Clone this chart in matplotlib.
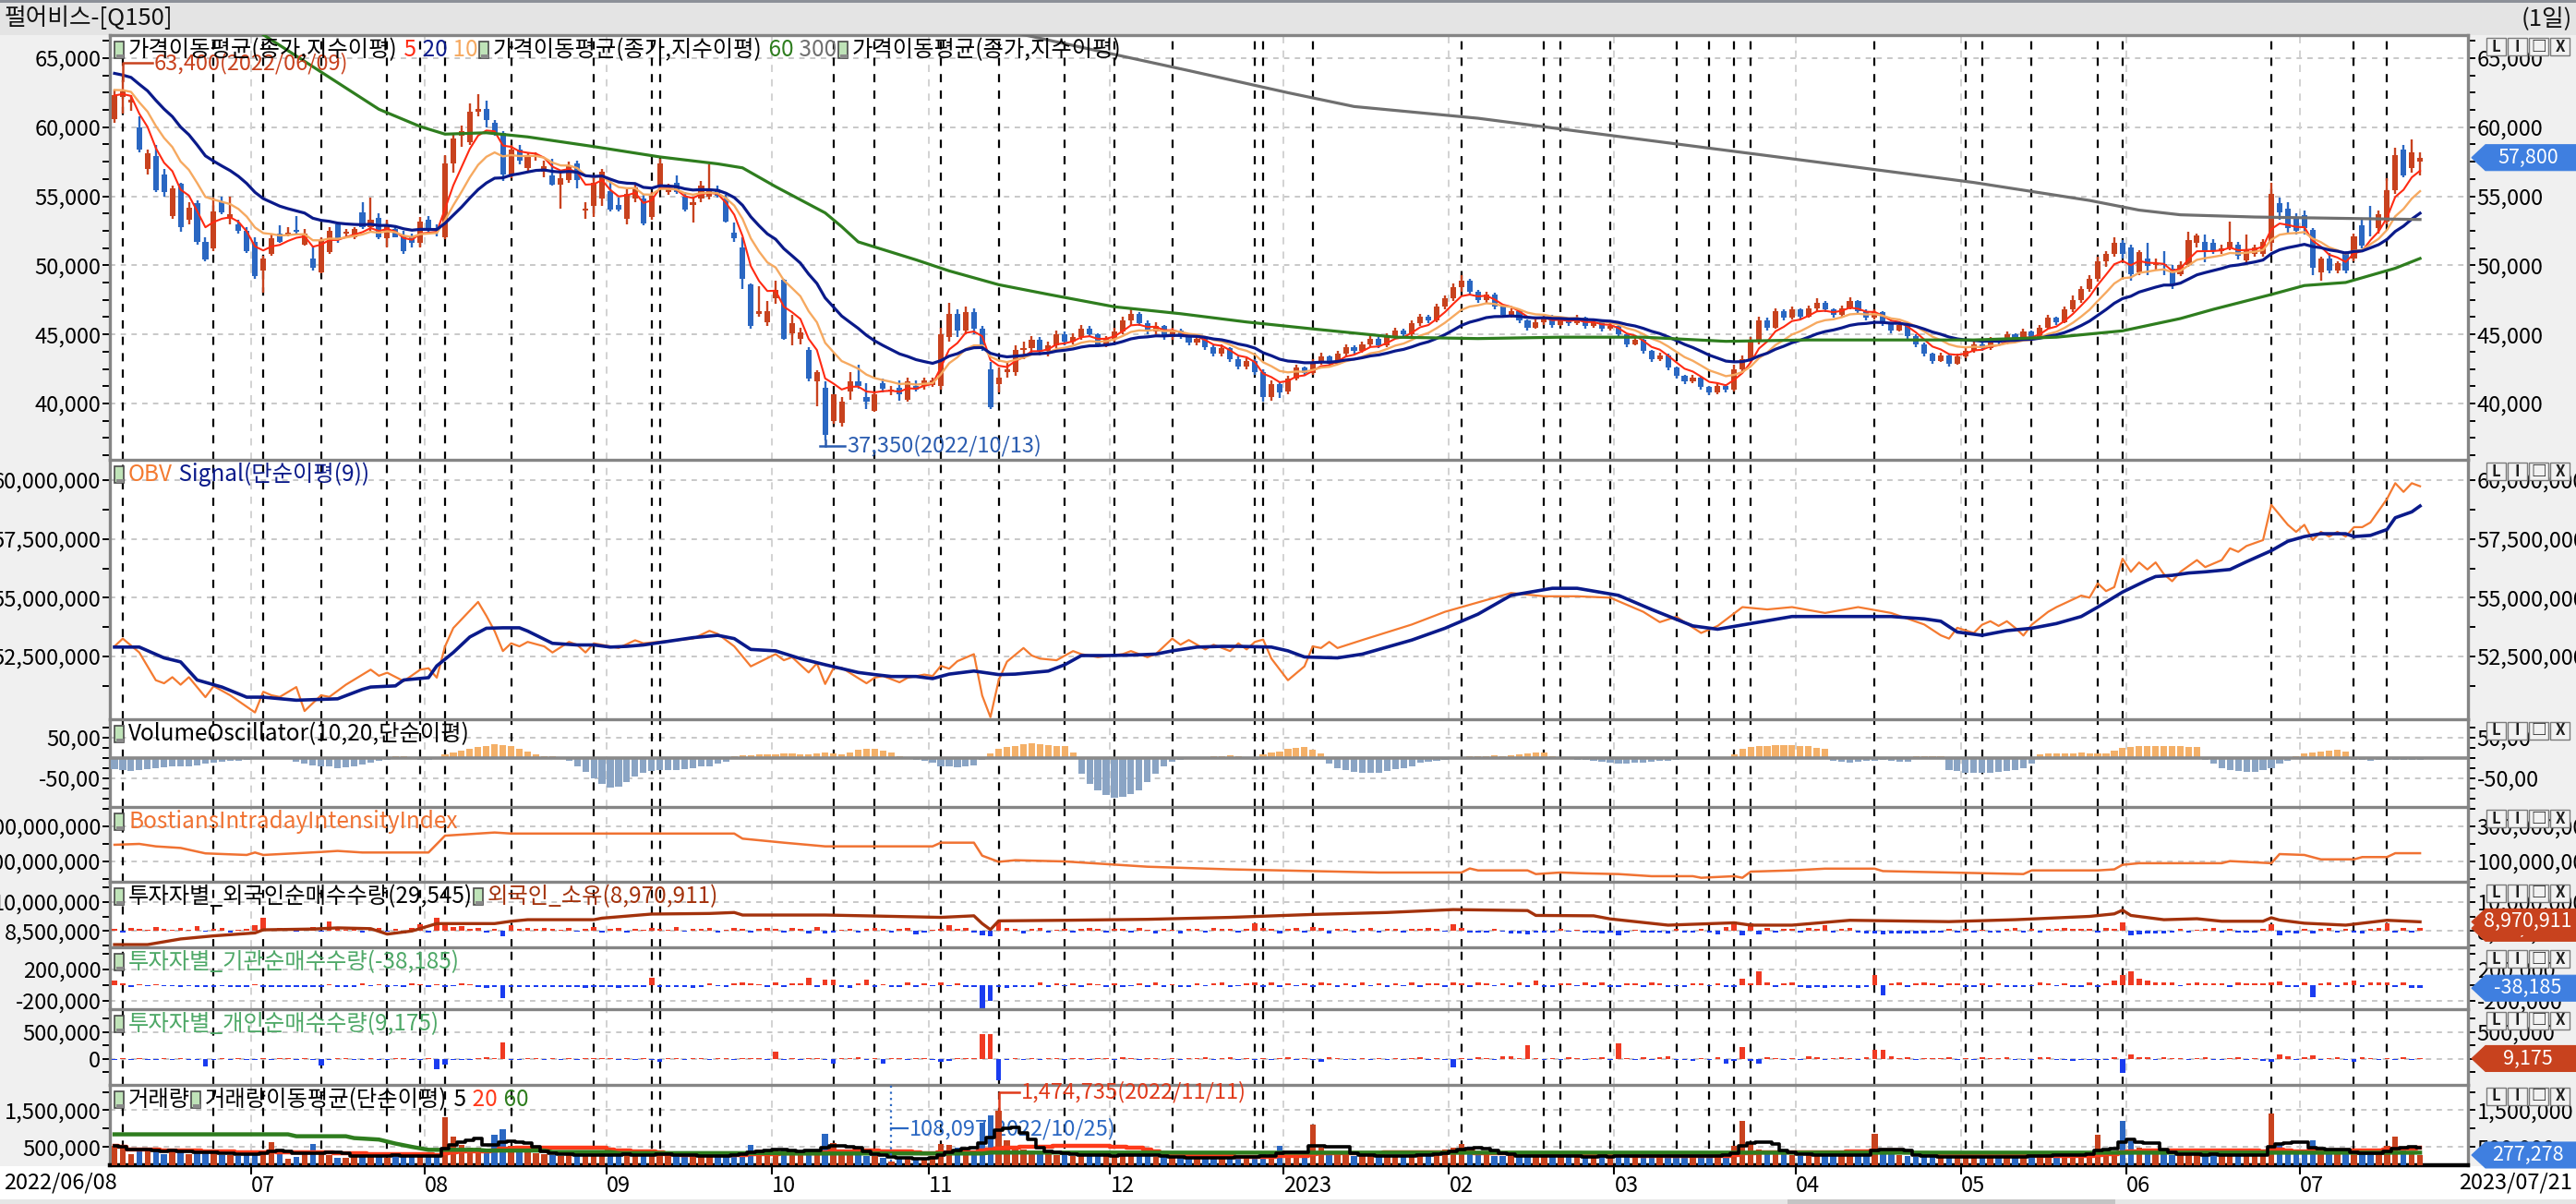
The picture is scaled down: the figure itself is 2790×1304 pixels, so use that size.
import numpy as np
import pandas as pd
import matplotlib
matplotlib.use("Agg")
import matplotlib.pyplot as plt
from matplotlib.patches import Rectangle, Polygon
from matplotlib.ticker import FixedLocator, FuncFormatter, FixedFormatter

plt.rcParams['font.family'] = ['Noto Sans CJK KR', 'DejaVu Sans']
plt.rcParams['axes.unicode_minus'] = False

# ---------------- data ----------------
start_date = '2022-06-08'
end_date = '2023-07-21'
holidays = ['2022-08-15', '2022-09-09', '2022-09-12', '2022-10-03', '2022-10-10',
            '2022-12-30', '2023-01-23', '2023-01-24', '2023-03-01', '2023-05-01',
            '2023-05-05', '2023-05-29', '2023-06-06']

opens = [
    60600, 62200, 61800, 60000, 57000, 57900, 56600, 53600, 55900, 53300,
    54500, 51700, 51200, 54600, 53400, 52950, 52500, 51700, 49600, 50850,
    52300, 52250, 52550, 51500, 50500, 49500, 50950, 52950, 52300, 52050,
    53850, 52750, 53450, 51950, 52600, 52150, 52050, 51600, 53300, 52700,
    52050, 57400, 59400, 58950, 61100, 61300, 60350, 59600, 56600, 58400,
    57050, 57850, 56750, 56500, 55850, 56200, 57400, 53950, 54300, 54850,
    55400, 54400, 53400, 54850, 54850, 53500, 55700, 55300, 55950, 54950,
    54400, 54850, 54950, 55500, 54850, 52350, 51300, 48600, 46500, 45850,
    47600, 48950, 45050, 44700, 43900, 41600, 41150, 38700, 38600, 40900,
    41600, 40450, 39450, 41450, 40900, 41150, 40250, 41250, 41250, 41350,
    41250, 44800, 46500, 45300, 46600, 45400, 42450, 41400, 42250, 42300,
    43900, 44000, 44600, 43800, 44200, 45000, 44500, 44800, 45400, 45000,
    44300, 44700, 45200, 46000, 46500, 45800, 45200, 45600, 44800, 45300,
    44900, 44400, 44700, 44100, 43600, 44000, 43200, 42700, 43100, 42300,
    40500, 41400, 40900, 41800, 42600, 42200, 43000, 43400, 42900, 43600,
    44100, 43800, 44300, 44700, 44200, 44900, 45300, 45000, 45800, 46300,
    46000, 47000, 47600, 48400, 48900, 48100, 47500, 47900, 47000, 46400,
    46700, 46000, 45500, 45900, 46300, 45700, 46100, 45800, 46200, 45600,
    45900, 45400, 45600, 45000, 44300, 44600, 43800, 43200, 43500, 42600,
    42000, 41600, 41900, 41200, 40800, 41300, 41000, 42500, 43200, 44500,
    46000, 45500, 46700, 46200, 46800, 46300, 46900, 47300, 46800, 46400,
    46900, 47400, 46700, 46200, 46600, 45800, 45300, 45700, 44900, 44300,
    43600, 43100, 43500, 42900, 43400, 43800, 44300, 44000, 44600, 44400,
    45000, 44700, 45200, 44800, 45500, 46200, 45900, 46800, 47500, 48300,
    49000, 50300, 50800, 51600, 51280, 49490, 50500, 50000, 50100, 49780,
    49380, 50050, 51610, 51680, 51610, 51050, 51280, 51500, 50390, 50830,
    50830, 51610, 54500, 54100, 53440, 53660, 52550, 49500, 50500, 49600,
    50940, 50500, 52880, 53450, 52720, 53170, 55440, 58400, 57070, 57500]
highs = [
    62700, 63400, 62300, 60800, 58400, 58700, 57000, 55800, 56000, 54600,
    54700, 52000, 54900, 55000, 55000, 53300, 52800, 52000, 50700, 52200,
    52900, 52800, 53600, 52600, 51400, 52000, 52800, 53100, 52600, 52800,
    54600, 54900, 53800, 53300, 52900, 52500, 52300, 53500, 53600, 53000,
    58000, 59600, 60100, 61700, 62400, 61950, 60500, 59700, 58700, 58700,
    58200, 58200, 57600, 57700, 56700, 57500, 57600, 54600, 56500, 57000,
    56100, 54900, 55500, 56000, 55200, 55300, 57700, 55900, 56500, 55300,
    55000, 56100, 57300, 55800, 55100, 53100, 52000, 48700, 48500, 47400,
    48900, 49000, 46400, 45500, 44100, 42400, 41600, 40700, 40500, 42300,
    42800, 41500, 40800, 41800, 41300, 41700, 41900, 41700, 41900, 41900,
    45500, 47300, 46800, 47000, 46900, 45600, 43000, 42600, 43000, 44200,
    44500, 44900, 44800, 44500, 45300, 45200, 45100, 45700, 45600, 45100,
    44900, 45500, 46300, 46900, 46600, 46000, 45900, 45700, 45500, 45400,
    45100, 44900, 44800, 44200, 44300, 44100, 43400, 43300, 43200, 42500,
    41700, 41600, 42000, 42800, 42700, 43200, 43700, 43500, 43800, 44300,
    44200, 44500, 44900, 44800, 45100, 45500, 45400, 46000, 46500, 46400,
    47200, 47800, 48700, 49300, 49000, 48200, 48100, 48000, 47100, 46900,
    46800, 46100, 46100, 46500, 46400, 46300, 46200, 46400, 46300, 46100,
    46000, 45800, 45700, 45100, 44800, 44700, 43900, 43700, 43600, 42700,
    42100, 42100, 42000, 41300, 41500, 41400, 42800, 43500, 44800, 46300,
    46200, 46900, 46800, 47000, 46900, 47100, 47600, 47400, 46900, 47100,
    47700, 47500, 46800, 46800, 46700, 45900, 45900, 45800, 45000, 44400,
    43700, 43700, 43600, 43600, 44000, 44500, 44400, 44800, 44700, 45200,
    45100, 45400, 45300, 45700, 46400, 46300, 47000, 47800, 48500, 49300,
    50600, 51000, 52000, 51800, 51500, 51100, 51600, 50500, 51000, 50000,
    50300, 52400, 52300, 52200, 51900, 51500, 53200, 51700, 52200, 51500,
    51900, 56000, 54900, 54600, 53800, 54000, 52700, 50600, 50900, 50300,
    51000, 52300, 53300, 54300, 54000, 56300, 58500, 58700, 59150, 58200]
lows = [
    60300, 61000, 61200, 58200, 56600, 55300, 55000, 53400, 52400, 53000,
    51500, 50300, 51000, 53700, 53000, 52300, 50900, 49000, 48000, 50700,
    51600, 52100, 52300, 51400, 49600, 49400, 50800, 51600, 52000, 51900,
    52600, 52500, 51900, 51300, 52000, 50800, 51300, 51300, 52300, 52100,
    51900, 56700, 58600, 58700, 60800, 60000, 59400, 56100, 56300, 57300,
    56800, 57600, 56400, 55800, 54100, 56000, 55600, 53400, 53500, 54300,
    53900, 53900, 53000, 54600, 52900, 53300, 55500, 55100, 55200, 53900,
    53100, 54600, 54800, 54900, 53100, 51700, 48300, 45400, 46300, 45600,
    47200, 44600, 44200, 44300, 41600, 39800, 37350, 38500, 38300, 40300,
    41100, 39600, 39400, 40800, 40600, 40200, 40100, 40900, 41000, 41200,
    41000, 44500, 44800, 45000, 45000, 43800, 39600, 40800, 41900, 42000,
    43200, 43700, 43500, 43400, 44000, 44200, 44300, 44600, 44800, 44100,
    44100, 44500, 45000, 45700, 45600, 45000, 45000, 44600, 44600, 44700,
    44200, 44200, 43900, 43400, 43400, 43000, 42500, 42500, 42100, 40100,
    40200, 40400, 40700, 41700, 42000, 42100, 42800, 42700, 42800, 43400,
    43600, 43700, 44100, 44000, 44100, 44700, 44800, 44900, 45600, 45800,
    45900, 46800, 47400, 48100, 47900, 47300, 47300, 46800, 46200, 46200,
    45800, 45300, 45400, 45700, 45500, 45600, 45600, 45700, 45400, 45500,
    45200, 45300, 44800, 44100, 44200, 43600, 43000, 43100, 42400, 41800,
    41400, 41500, 41000, 40600, 40700, 40800, 40900, 42300, 43000, 44300,
    45300, 45400, 46000, 46100, 46100, 46200, 46700, 46600, 46200, 46300,
    46800, 46500, 46000, 46100, 45600, 45100, 45200, 44700, 44100, 43400,
    42900, 43000, 42700, 42800, 43300, 43700, 43800, 43900, 44200, 44300,
    44500, 44600, 44600, 44700, 45400, 45700, 45800, 46600, 47300, 48100,
    48800, 49900, 50600, 50500, 48900, 49300, 49300, 49600, 49300, 48300,
    49200, 49900, 51300, 50200, 50800, 50800, 51100, 50400, 50200, 50600,
    50600, 51000, 53300, 52300, 52200, 52200, 49300, 48900, 49400, 49400,
    49400, 50300, 51200, 52100, 52300, 53000, 55200, 56400, 56700, 56500]
closes = [
    62300, 62600, 62000, 58400, 58100, 55450, 55300, 55600, 52800, 54200,
    51700, 50400, 53900, 53850, 53700, 52500, 51050, 49200, 50500, 51950,
    51700, 52350, 52450, 52300, 49850, 51800, 52500, 51850, 52450, 52600,
    52750, 53300, 52050, 52950, 52050, 51050, 51600, 53200, 52500, 52550,
    57400, 59200, 59750, 61100, 61300, 60500, 59600, 56600, 58400, 57600,
    57950, 57950, 57200, 55850, 56300, 57200, 56200, 54100, 55950, 56750,
    54050, 54050, 55200, 55650, 53050, 55050, 57400, 55550, 55300, 54050,
    54600, 55750, 55400, 55050, 53200, 51950, 49050, 45600, 46700, 46700,
    48200, 44700, 45800, 45150, 41800, 42250, 37700, 40700, 40150, 41600,
    41250, 40150, 40700, 41050, 41000, 40700, 41600, 41000, 41700, 41700,
    45000, 46500, 45300, 46600, 45400, 44200, 39700, 41900, 42450, 43900,
    44000, 44600, 43800, 44200, 45000, 44500, 44800, 45400, 45000, 44300,
    44700, 45200, 46000, 46500, 45800, 45200, 45600, 44800, 45300, 44900,
    44400, 44700, 44100, 43600, 44000, 43200, 42700, 43100, 42300, 40500,
    41400, 40800, 41800, 42600, 42200, 43000, 43400, 42900, 43600, 44100,
    43800, 44300, 44700, 44200, 44900, 45300, 45000, 45800, 46300, 46000,
    47000, 47600, 48400, 48900, 48100, 47500, 47900, 47000, 46400, 46700,
    46000, 45500, 45900, 46300, 45700, 46100, 45800, 46200, 45600, 45900,
    45400, 45600, 45000, 44300, 44600, 43800, 43200, 43500, 42600, 42000,
    41600, 41900, 41200, 40800, 41300, 41000, 42500, 43200, 44500, 46000,
    45500, 46700, 46200, 46800, 46300, 46900, 47300, 46800, 46400, 46900,
    47400, 46700, 46200, 46600, 45800, 45300, 45700, 44900, 44300, 43600,
    43100, 43500, 42900, 43400, 43800, 44300, 44000, 44600, 44400, 45000,
    44700, 45200, 44800, 45500, 46200, 45900, 46800, 47500, 48300, 49000,
    50300, 50800, 51600, 50800, 49380, 50940, 49940, 50100, 50000, 48600,
    50050, 51830, 52170, 51050, 51050, 51200, 51680, 50700, 51160, 51280,
    51720, 55170, 53840, 52720, 52500, 52720, 49830, 50500, 49600, 50160,
    49600, 52100, 51400, 53390, 53730, 55440, 57960, 56500, 58180, 57800]

# exponential averages at the first day
ema_start = {5: 62300, 10: 62700, 20: 63900}

# volume in thousand shares
volume_k = [
    520, 480, 300, 420, 380, 460, 300, 420, 390, 300,
    340, 360, 330, 280, 280, 260, 330, 400, 320, 630,
    300, 180, 220, 350, 570, 330, 280, 210, 200, 230,
    330, 260, 300, 200, 260, 270, 240, 250, 250, 230,
    1320, 775, 560, 470, 480, 430, 820, 970, 520, 400,
    360, 330, 300, 280, 260, 300, 280, 250, 280, 330,
    300, 260, 280, 250, 300, 260, 380, 260, 240, 250,
    230, 260, 260, 230, 280, 310, 380, 560, 420, 330,
    400, 460, 380, 300, 420, 400, 860, 610, 330, 350,
    300, 260, 240, 200, 108.097, 180, 220, 190, 210, 250,
    570, 560, 480, 420, 380, 1150, 1350, 1474.735, 680, 520,
    420, 380, 330, 300, 280, 300, 260, 300, 240, 280,
    260, 240, 320, 300, 260, 240, 220, 230, 200, 210,
    190, 210, 200, 180, 220, 240, 230, 210, 260, 310,
    300, 520, 380, 300, 320, 1110, 480, 320, 280, 300,
    260, 240, 250, 230, 260, 280, 250, 300, 320, 280,
    330, 420, 480, 570, 500, 380, 300, 260, 240, 280,
    220, 250, 300, 260, 240, 230, 220, 250, 240, 230,
    260, 200, 280, 300, 260, 240, 220, 250, 280, 260,
    240, 220, 230, 250, 260, 380, 520, 1220, 610, 420,
    380, 320, 300, 280, 260, 300, 280, 240, 260, 280,
    320, 300, 270, 860, 380, 300, 270, 250, 230, 220,
    240, 210, 230, 200, 220, 210, 230, 240, 250, 230,
    240, 220, 350, 260, 250, 280, 300, 260, 330, 310,
    820, 430, 350, 1220, 650, 480, 360, 320, 300, 280,
    300, 310, 280, 260, 300, 270, 250, 280, 260, 270,
    300, 1420, 600, 450, 380, 330, 670, 420, 360, 330,
    300, 320, 380, 300, 340, 525, 775, 480, 360, 277.278]

# VolumeOscillator(10,20) readings
vol_osc = [
    -28, -30, -32, -30, -28, -26, -24, -22, -20, -20, -18,
    -15, -12, -10, -8, -8, -6,
    -4, -3, -2, -3, -4,
    -10, -14, -18, -20, -22, -25, -24, -20, -16, -12, -8, -5,
    3, 4, -3, -6, -5, -4,
    8, 14, 18, 22, 26, 30, 33, 32, 28, 22, 15, 8,
    5, 3, -2, -8,
    -20, -35, -50, -65, -74, -72, -60, -45, -38, -33, -30,
    -30, -30, -28, -25, -22, -20, -15, -10,
    5, 6, 7, 8, 8, 9, 10, 10, 9, 9, 10, 12, 10, 8,
    14, 20, 22, 21, 18, 12,
    4, -2, -5, -8, -12,
    -20, -22, -24, -22, -18, -6,
    10, 22, 26, 30, 34, 36, 34, 32, 30, 28, 12,
    -40, -65, -80, -92, -98, -95, -90, -80, -60, -40, -20, -10,
    -6, -4, -2, 2, 4, 5, 6, 5, -4, -6,
    8, 12, 16, 22, 24, 26, 20, 10,
    -15, -25, -30, -35, -38, -38, -36, -32, -28, -25, -20, -13,
    -10, -8, -6, -3, 2,
    4, 5, 5, 6, 5, 6, 8, 10, 12, 13,
    3, -2, -4, -5, -6,
    -8, -10, -12, -14, -15, -13, -12, -10, -8, -7, -6,
    -4, -3, -2, -3, -1, 2, 8,
    23, 26, 28, 30, 32, 32, 31, 30, 28, 25, 22,
    -8, -10, -12, -10, -8, -7, -6, -8, -10, -9,
    3, 5, 5, 4,
    -30, -33, -36, -38, -38, -37, -35, -33, -30, -25, -15,
    8, 10, 11, 11, 11, 12, 11, 10, 10,
    18, 25, 27, 28, 29, 30, 30, 29, 28, 27, 26,
    -5, -15, -25, -30, -33, -35, -34, -30, -25, -15, -8,
    5, 10, 12, 15, 18, 19, 15,
    -6, -6, -7, -6, -6, -5, -6, -6, -6]

# net buying by investor (thousand shares)
foreign_k = [
    20, -15, 30, 25, 15, 40, 25, 10, 35, 15, 50, -10, 20, 30, -15, 10, 25, 60, 140, 20,
    30, 15, -10, 25, 40, -5, 100, 20, 15, 40, -20, 20, 30, -5, 20, -30, 30, 70, -20, 140,
    80, 40, 50, 20, 30, -20, 25, -60, 60, 20, 35, 25, 30, 20, 15, 30, -10, 25, 40, -15,
    20, 30, -20, 20, 15, 35, 25, 10, 40, -10, 20, 25, 30, -20, 15, 30, 20, -15, 25, 30,
    20, -15, 30, 25, -25, 40, -30, -20, 15, 25, -15, 20, 30, 25, -20, 20, 30, -40, -20, 15,
    25, 60, 20, 30, -15, -45, -60, 100, 30, 25, -25, 20, 30, -20, 15, 25, -15, 20, 30, 25,
    -15, 20, 25, -20, 30, 15, -25, 20, 15, -30, 25, 20, -15, 30, 25, 20, -20, 25, 80, 30,
    20, -25, 25, 30, -20, 45, 30, -30, 20, 25, -20, 25, 30, -15, 20, 25, -20, 25, 20, 30,
    25, -10, 75, 30, -20, -15, -20, 20, -10, -25, -30, -40, -15, -20, -15, 20, -10, 15, -20, -15,
    -25, -20, -45, -20, 15, -15, -20, -15, -25, 20, -15, -15, 25, -15, -35, 40, 100, -45, 80, -40,
    30, -15, 20, 25, -20, 30, 20, 60, -15, 25, 30, -20, -25, -30, -35, -30, -25, -30, -30, -25,
    -20, -15, 20, -20, 25, -20, 15, -20, -15, 20, 30, -20, 25, -15, 20, 25, 30, 25, 20, 25,
    -20, 30, 20, 90, -45, -35, -30, -25, -30, -20, 25, -20, 15, 25, 30, -20, 25, -15, -20, -20,
    20, 70, -50, -20, -30, 25, -25, 25, 30, -20, 25, -20, -25, 25, 30, 80, -20, 30, -20, 29.545]
inst_k = [
    60, 20, -20, 10, -15, 15, -10, -15, -20, -15, -20, -20, -25, -15, -20, -20, -25, 15, -20, -20,
    -20, -25, -20, -20, -20, -25, 15, -20, -25, -20, 20, -15, 15, -20, -15, -20, 20, 15, -25, 15,
    -20, -15, 20, 15, -20, -30, -20, -170, -20, -20, -25, -20, -20, -20, -25, -20, -25, -30, -20, -20,
    -25, -30, -20, -20, -20, 94, -20, -25, -20, -20, -30, -20, 20, -15, -20, 20, 30, 20, 15, -20,
    30, -20, 25, 20, 94, -20, 67, 67, -25, -30, 20, 67, -20, 15, -20, -25, 30, -20, 20, -15,
    40, -15, 20, -20, -20, -290, -200, -20, -30, -20, -25, -20, 30, -20, 20, -15, 25, -20, 20, 15,
    -20, 25, -20, -15, 20, -25, 30, -20, 15, -20, -25, 20, -15, 25, 30, -20, -15, 25, 40, -20,
    30, -20, 25, -15, 20, -25, 30, 20, -20, 25, -20, 30, -15, 20, -20, 25, -15, 30, -20, 25,
    20, -20, 40, 25, -20, 30, 25, -15, 20, -20, 35, -20, 60, -25, -20, 25, 20, -15, 30, -20,
    40, -20, -25, 20, 25, -20, 30, 20, -20, -15, -20, 25, 20, -15, 20, -20, -25, 80, 20, 177,
    35, -20, 25, 30, -20, -30, -25, -40, -25, -25, -25, -30, -20, 126, -126, 25, 30, -20, 25, 30,
    25, -20, 25, 25, -20, -20, 25, -20, 25, -20, -25, -20, -15, 30, 25, -15, 20, -20, -20, 30,
    -20, 25, 60, 126, 177, 80, 60, 40, 35, 30, -15, 25, 30, 25, 20, 25, -20, 30, 25, 20,
    25, 40, 45, -20, -25, 40, -150, 20, 30, -20, 40, 60, -20, 40, 30, 30, -20, 40, -30, -38.185]
indiv_k = [
    -20, 15, -25, 20, -15, -20, 10, -25, 15, -20, -15, -130, -20, 15, -20, 20, -25, -15, 20, -20,
    25, 20, -20, 15, -20, -120, -20, 15, 20, -15, -20, 20, -15, -20, 15, 20, -20, -25, 15, -184,
    -100, -20, -25, -20, 20, 30, 25, 317, -20, -15, 20, 25, -20, 15, -20, 20, -15, 20, 25, 15,
    20, -15, 20, -25, 15, -20, -60, 15, 20, -20, 25, 20, -15, 20, 25, -20, 15, 20, 25, -15,
    143, -20, 25, -20, 15, 20, -25, -90, 20, 25, 30, -20, 25, -80, 20, 15, -20, 25, 20, -20,
    -60, -30, 20, 25, 25, 460, 460, -390, -20, 20, -25, 20, -15, 20, 25, -20, 15, 20, -15, 20,
    25, -20, 30, 20, -15, 20, 25, -20, 20, -15, 25, 20, 30, -20, 25, 30, -15, 20, -20, 25,
    -20, 25, 30, -25, 20, -20, -60, 30, 25, -20, -15, 20, -20, 15, -20, 25, -20, 20, 30, -15,
    20, -20, -160, 20, -20, 30, 25, -20, 50, 60, 20, 258, 20, -15, 20, -20, 30, 25, -20, 20,
    30, -15, 287, 20, -20, 40, -20, 30, 50, -20, -15, -30, 25, -20, 30, -80, -40, 218, -40, -80,
    30, 20, -20, 25, -20, 50, 30, -25, 25, 30, 20, -20, 40, 172, 172, 60, 25, 30, -20, 20,
    25, 20, 30, -20, 25, -20, 30, 20, 25, 30, -20, -25, -20, 40, 30, -20, -25, -30, -20, -20,
    -20, -25, 30, -258, 80, 40, 30, -20, 30, 25, 20, -20, 25, 30, -20, -25, 20, 30, -20, 25,
    -40, -60, 80, 50, -20, 30, 70, -20, 25, 30, -20, -60, 40, 25, -25, 25, -20, 30, -20, 9.175]

# foreign holding (million shares), read at selected days
hold_day = [0, 4, 8, 12, 17, 18, 24, 27, 31, 33, 36, 39, 46, 48, 50, 58, 59, 65, 72, 75, 76, 86, 92,
            100, 104, 105, 106, 107, 115, 125, 135, 145, 154, 162, 171, 172, 179, 181, 188, 196,
            198, 203, 210, 222, 230, 239, 242, 243, 244, 248, 252, 255, 260, 261, 262, 265, 270, 275, 279]
hold_m = [7.80, 7.80, 8.09, 8.25, 8.40, 8.56, 8.60, 8.66, 8.62, 8.34, 8.50, 8.88, 8.88, 9.00, 9.08,
          9.08, 9.16, 9.37, 9.40, 9.45, 9.32, 9.32, 9.27, 9.20, 9.28, 8.88, 8.57, 9.02, 9.05, 9.10,
          9.20, 9.35, 9.45, 9.60, 9.55, 9.30, 9.28, 9.12, 8.80, 8.92, 8.80, 8.80, 9.05, 8.98, 9.08,
          9.25, 9.38, 9.57, 9.30, 9.08, 9.13, 9.00, 9.00, 9.18, 9.06, 8.90, 8.80, 9.05, 8.970911]

# OBV (million) readings
obv_day = [0, 1, 3, 5, 6, 7, 8, 9, 11, 12, 14, 17, 18, 19, 20, 22, 23, 25, 26, 28, 31, 32, 33, 35, 37,
           38, 39, 40, 41, 44, 45, 46, 47, 48, 49, 50, 52, 53, 55, 56, 57, 58, 60, 61, 63, 64, 70,
           72, 73, 75, 77, 80, 81, 82, 84, 85, 86, 87, 88, 91, 92, 93, 95, 96, 98, 99, 100, 101,
           102, 104, 105, 106, 107, 108, 110, 111, 112, 114, 116, 117, 119, 122, 123, 125, 126,
           128, 129, 130, 132, 133, 135, 136, 137, 138, 139, 140, 142, 144, 145, 146, 147, 148,
           151, 157, 161, 165, 169, 173, 177, 181, 185, 187, 189, 192, 194, 197, 200, 203, 207,
           211, 215, 219, 221, 222, 223, 225, 226, 227, 228, 229, 230, 231, 232, 234, 235, 238,
           239, 240, 241, 242, 243, 244, 245, 246, 247, 248, 249, 250, 252, 253, 255, 256, 257,
           258, 260, 261, 263, 264, 265, 266, 267, 268, 269, 270, 271, 272, 273, 274, 275, 276,
           277, 278, 279]
obv_m = [52.93, 53.26, 52.67, 51.49, 51.36, 51.62, 51.30, 51.62, 50.77, 51.24, 50.85, 50.12, 51.00,
         50.85, 50.78, 51.20, 50.18, 50.85, 50.78, 51.30, 51.94, 51.68, 51.81, 51.45, 51.94, 52.00,
         51.60, 52.93, 53.71, 54.82, 54.23, 53.58, 52.73, 53.06, 52.93, 53.12, 52.93, 52.67, 53.12,
         52.99, 52.67, 53.06, 52.93, 52.86, 53.19, 53.06, 53.26, 53.59, 53.46, 52.93, 52.08, 52.60,
         52.34, 52.47, 51.82, 52.21, 51.33, 52.00, 52.02, 51.36, 51.60, 51.67, 51.40, 51.60, 51.73,
         51.67, 52.10, 51.98, 52.30, 52.60, 50.84, 49.92, 51.49, 52.28, 52.86, 52.54, 52.41, 52.34,
         52.73, 52.60, 52.47, 52.60, 52.73, 52.47, 52.60, 53.26, 53.00, 53.20, 52.80, 53.00, 52.73,
         53.06, 52.80, 53.12, 53.22, 52.41, 51.49, 52.08, 52.93, 52.86, 53.12, 52.86, 53.20, 53.86,
         54.40, 54.80, 55.20, 55.06, 55.06, 55.00, 54.40, 53.96, 54.19, 53.50, 53.80, 54.60, 54.50,
         54.60, 54.35, 54.60, 54.35, 53.86, 53.40, 53.26, 53.72, 53.50, 53.85, 54.00, 53.80, 54.00,
         53.72, 53.39, 53.85, 54.40, 54.60, 55.09, 55.00, 55.61, 55.28, 55.45, 56.66, 56.10, 56.50,
         56.20, 56.50, 56.00, 55.70, 56.10, 56.60, 56.30, 56.60, 57.10, 56.95, 57.20, 57.45, 58.95,
         58.10, 57.80, 58.10, 57.45, 57.80, 57.60, 57.80, 57.60, 58.00, 58.00, 58.20, 58.70, 59.20,
         59.87, 59.50, 59.87, 59.74]
sig_day = [0, 3, 6, 8, 10, 11, 13, 16, 18, 22, 27, 30, 31, 34, 35, 38, 39, 41, 43, 45, 47, 49, 50,
           53, 56, 58, 60, 62, 64, 70, 73, 75, 77, 80, 83, 86, 90, 92, 94, 97, 99, 101, 104, 107,
           109, 113, 115, 117, 120, 123, 126, 128, 131, 134, 136, 140, 142, 144, 148, 151, 157,
           161, 165, 169, 174, 177, 182, 186, 191, 194, 198, 203, 211, 215, 219, 221, 223, 226,
           229, 232, 235, 238, 240, 243, 246, 247, 249, 251, 253, 256, 258, 261, 263, 265, 267,
           270, 271, 273, 275, 276, 278, 279]
sig_m = [52.90, 52.90, 52.44, 52.27, 51.50, 51.40, 51.20, 50.77, 50.77, 50.64, 50.70, 51.10, 51.20,
         51.25, 51.50, 51.60, 52.10, 52.67, 53.33, 53.70, 53.72, 53.72, 53.58, 53.06, 52.99, 52.99,
         52.90, 52.93, 52.99, 53.30, 53.40, 53.26, 52.80, 52.74, 52.41, 52.15, 51.82, 51.73, 51.65,
         51.65, 51.56, 51.75, 51.88, 51.73, 51.75, 51.88, 52.15, 52.54, 52.54, 52.56, 52.60, 52.74,
         52.90, 52.93, 52.93, 52.90, 52.74, 52.48, 52.44, 52.60, 53.20, 53.70, 54.30, 55.10, 55.40,
         55.40, 55.10, 54.50, 53.80, 53.66, 53.90, 54.20, 54.20, 54.20, 54.10, 54.00, 53.54, 53.40,
         53.60, 53.70, 53.90, 54.20, 54.60, 55.24, 55.75, 55.90, 55.95, 56.05, 56.10, 56.20, 56.53,
         57.00, 57.40, 57.60, 57.72, 57.72, 57.60, 57.65, 57.90, 58.40, 58.65, 58.90]

# BostiansIntradayIntensityIndex (million) readings
bii_day = [0, 3, 5, 8, 11, 16, 17, 18, 25, 27, 30, 38, 40, 46, 48, 57, 65, 75, 76, 81, 86, 93, 99,
           100, 104, 105, 107, 109, 115, 125, 135, 145, 153, 163, 164, 165, 171, 172, 175, 178,
           182, 186, 191, 192, 196, 197, 198, 203, 207, 213, 214, 222, 231, 232, 236, 240, 242,
           243, 245, 255, 256, 261, 262, 265, 267, 271, 272, 275, 276, 279]
bii_m = [195, 200, 186, 177, 146, 137, 151, 137, 154, 160, 151, 151, 247, 265, 259, 259, 259, 259,
         230, 207, 186, 186, 186, 207, 207, 133, 98, 107, 100, 70, 55, 45, 37, 37, 60, 49, 49, 28,
         37, 32, 28, 16, 16, 7, 16, 7, 42, 49, 59, 59, 45, 37, 28, 49, 49, 49, 55, 81, 90, 90, 102,
         90, 142, 137, 112, 112, 125, 125, 147, 147]

# long moving averages of price
ma60_day = [0, 10, 18, 25, 32, 37, 40, 45, 50, 58, 66, 73, 76, 80, 86, 88, 90, 97, 101, 107, 113,
            121, 129, 137, 145, 155, 165, 175, 185, 195, 205, 215, 225, 235, 243, 250, 254, 261,
            265, 270, 276, 279]
ma60_val = [73400, 69700, 66700, 64000, 61300, 60050, 59500, 59600, 59300, 58600, 57850, 57350,
            57060, 55700, 53800, 52800, 51700, 50400, 49600, 48600, 47900, 47000, 46500, 45900,
            45400, 44800, 44700, 44800, 44800, 44500, 44600, 44600, 44600, 44800, 45260, 46150,
            46820, 47890, 48540, 48760, 49790, 50500]
ma300_day = [95, 110, 120, 130, 142, 150, 165, 185, 205, 225, 239, 245, 250, 259, 271, 279]
ma300_val = [68500, 66700, 65400, 64100, 62500, 61500, 60650, 59100, 57560, 56000, 54700, 54000,
             53660, 53500, 53390, 53320]

# volume 60-day average (thousand)
vma60_day = [0, 21, 22, 28, 29, 32, 34, 36, 37, 38, 44, 45, 52, 53, 60, 61, 80, 81, 105, 106, 140, 200, 279]
vma60_k = [842, 842, 790, 790, 740, 700, 590, 500, 460, 420, 420, 400, 400, 360, 360, 330, 330, 320,
           320, 345, 342, 342, 342]

signal_days = [1, 12, 18, 25, 33, 37, 40, 48, 58, 65, 66, 87, 92, 100, 107, 115, 121, 128, 138, 139,
               145, 163, 173, 175, 181, 189, 193, 196, 198, 213, 224, 226, 232, 240, 243, 261, 271, 275]

# ---------------- preparation ----------------
dates = pd.bdate_range(start_date, end_date)
dates = dates[~dates.isin(pd.to_datetime(holidays))]
N = len(dates)
for nm, arr in [('opens', opens), ('highs', highs), ('lows', lows), ('closes', closes),
                ('volume', volume_k), ('vo', vol_osc), ('for', foreign_k), ('inst', inst_k), ('ind', indiv_k)]:
    assert len(arr) == N, (nm, len(arr), N)

x = np.arange(N)
o = np.array(opens, float); h = np.array(highs, float); l = np.array(lows, float); c = np.array(closes, float)
vol = np.array(volume_k) * 1000
up = c >= o
RED = '#c8421e'
BLUE = '#2a67c2'
cols = np.where(up, RED, BLUE)


def ema(values, span, first):
    a = 2.0 / (span + 1)
    out = np.empty(len(values))
    out[0] = first
    for i in range(1, len(values)):
        out[i] = a * values[i] + (1 - a) * out[i - 1]
    return out


ema5 = ema(c, 5, ema_start[5])
ema10 = ema(c, 10, ema_start[10])
ema20 = ema(c, 20, ema_start[20])
vs = pd.Series(vol)
vma5 = vs.rolling(5, min_periods=1).mean()
vma20 = vs.rolling(20, min_periods=1).mean()

month_idx = [i for i in range(1, N) if dates[i].month != dates[i - 1].month]
month_lbl = ['2023' if dates[i].month == 1 else dates[i].strftime('%m') for i in month_idx]

# ---------------- figure ----------------
W, H = 2790, 1304
fig = plt.figure(figsize=(W / 100, H / 100), dpi=100)
fig.patch.set_facecolor('#f0f0f0')
X0, X1 = 119, 2673
XL = (-0.56, 284.8)


def add_rect(x0, y0, x1, y1, fc, ec='none', lw=0, z=-1):
    r = Rectangle((x0 / W, 1 - y1 / H), (x1 - x0) / W, (y1 - y0) / H, transform=fig.transFigure,
                  fc=fc, ec=ec, lw=lw, zorder=z)
    fig.add_artist(r)
    return r


add_rect(0, 0, W, 38, '#e4e4e4')
add_rect(0, 0, W, 3, '#8c9098')
add_rect(0, 1263, W, H, 'white')
add_rect(0, 1299, W, H, '#e6e6e6')
add_rect(1936, 1299, 2291, H, '#c4c4c4')
fig.text(5 / W, 1 - 20 / H, '펄어비스-[Q150]', fontsize=18.5, va='center', ha='left', color='#111111')
fig.text(2786 / W, 1 - 20 / H, '(1일)', fontsize=18.5, va='center', ha='right', color='#111111')

panels = {'price': (38, 498), 'obv': (498, 779), 'vo': (779, 874), 'bii': (874, 955),
          'for': (955, 1026), 'inst': (1026, 1093), 'ind': (1093, 1175), 'vol': (1175, 1262)}
fmt_int = FuncFormatter(lambda v, p: f"{v:,.0f}")


def make_ax(key, ylim, majors, minors, labels=None):
    t, b = panels[key]
    ax = fig.add_axes([X0 / W, 1 - b / H, (X1 - X0) / W, (b - t) / H])
    ax.set_xlim(XL)
    ax.set_ylim(ylim)
    ax.set_facecolor('white')
    for s in ['top', 'left', 'right']:
        ax.spines[s].set_color('#858585')
        ax.spines[s].set_linewidth(2.4)
    ax.spines['bottom'].set_visible(False)
    ax.yaxis.set_major_locator(FixedLocator(majors))
    ax.yaxis.set_minor_locator(FixedLocator(minors))
    if labels is None:
        ax.yaxis.set_major_formatter(fmt_int)
    else:
        ax.yaxis.set_major_formatter(FixedFormatter(labels))
    ax.yaxis.set_ticks_position('both')
    ax.tick_params(axis='y', which='both', left=True, right=True, labelleft=True, labelright=True,
                   direction='out', length=6, width=1.4, labelsize=17, pad=1, colors='black')
    ax.tick_params(axis='x', which='both', bottom=False, top=False, labelbottom=False)
    for v in majors:
        ax.axhline(v, color='#c8c8c8', lw=1.4, ls=(0, (3, 3)), zorder=0.5)
    for m in month_idx:
        ax.axvline(m - 0.5, color='#d2d2d2', lw=1.4, ls=(0, (4, 4)), zorder=0.5)
    for d in signal_days:
        ax.axvline(d, color='black', lw=1.6, ls=(0, (4, 4)), zorder=1.5)
    return ax


# price
axp = make_ax('price', (35922, 66671), [40000, 45000, 50000, 55000, 60000, 65000],
              list(np.arange(36250, 66671, 1250)))
axp.bar(x, np.maximum(np.abs(c - o), 70), bottom=np.minimum(o, c), width=0.68, color=cols, zorder=3)
axp.vlines(x, l, h, colors=cols, lw=1.7, zorder=2.9)
axp.plot(x, ema5, color='#ff2a12', lw=1.5, zorder=4)
axp.plot(x, ema10, color='#f6a960', lw=1.7, zorder=4)
axp.plot(x, ema20, color='#0a1a8a', lw=2.3, zorder=4)
axp.plot(ma60_day, ma60_val, color='#2e7d1e', lw=2.3, zorder=4)
axp.plot(ma300_day, ma300_val, color='#6f6f6f', lw=2.3, zorder=4)
ih = int(np.argmax(h)); il = int(np.argmin(l))
axp.plot([ih, ih, ih + 3.6], [h[ih], 64650, 64650], color='#c8421e', lw=1.8, zorder=5)
axp.text(ih + 3.8, 64650, f"{h[ih]:,.0f}({dates[ih].strftime('%Y/%m/%d')})", color='#c8421e',
         fontsize=17, va='center', ha='left', zorder=6)
axp.plot([il, il], [l[il], 36930], color='#2a5cb0', lw=1.8, zorder=5)
axp.plot([il - 0.6, il + 2.4], [36930, 36930], color='#2a5cb0', lw=1.8, zorder=5)
axp.text(il + 2.6, 36930, f"{l[il]:,.0f}({dates[il].strftime('%Y/%m/%d')})", color='#2a5cb0',
         fontsize=17, va='center', ha='left', zorder=6)

# OBV
axo = make_ax('obv', (49.83e6, 60.864e6), [52.5e6, 55e6, 57.5e6, 60e6],
              [51.25e6, 53.75e6, 56.25e6, 58.75e6])
axo.plot(obv_day, np.array(obv_m) * 1e6, color='#f47a30', lw=1.6, zorder=4)
axo.plot(sig_day, np.array(sig_m) * 1e6, color='#0a1a8a', lw=2.6, zorder=4)

# Volume oscillator
axv = make_ax('vo', (-121, 94.8), [-50, 50], [-100, -75, -25, 0, 25, 75], labels=['-50,00', '50,00'])
vo = np.array(vol_osc, float)
axv.bar(x, vo, width=0.8, color=np.where(vo >= 0, '#f4b068', '#8aa4c4'), zorder=3)
axv.axhline(0, color='#8a8a8a', lw=2.6, zorder=3.5)

# BII
axb = make_ax('bii', (-15.8e6, 410.5e6), [100e6, 300e6], [0, 200e6, 400e6])
axb.plot(bii_day, np.array(bii_m) * 1e6, color='#f07232', lw=1.8, zorder=4)

# foreign
axf = make_ax('for', (7.66e6, 11.03e6), [8.5e6, 10e6], [9.25e6, 10.75e6, 7.75e6])
axf2 = axf.twinx()
axf2.set_ylim(-177e3, 533e3)
axf2.set_xlim(XL)
axf2.axis('off')
fv = np.array(foreign_k) * 1000
axf2.bar(x, fv, width=0.62, color=np.where(fv >= 0, '#f03a22', '#1a3cf0'), zorder=3)
axf2.plot(hold_day, (np.array(hold_m) * 1e6 - 7.66e6) / (11.03e6 - 7.66e6) * 710e3 - 177e3,
          color='#a3320c', lw=2.4, zorder=4)
axf.yaxis.set_ticks_position('both')
axf.tick_params(axis='y', which='both', left=True, right=True, labelleft=True, labelright=True)

# institution
axi = make_ax('inst', (-306e3, 482e3), [-200e3, 200e3], [0, 400e3])
iv = np.array(inst_k) * 1000
axi.bar(x, iv, width=0.62, color=np.where(iv >= 0, '#f03a22', '#1a3cf0'), zorder=3)

# individual
axd = make_ax('ind', (-483e3, 931e3), [0, 500e3], [250e3, 750e3, -250e3])
dv = np.array(indiv_k) * 1000
axd.bar(x, dv, width=0.62, color=np.where(dv >= 0, '#f03a22', '#1a3cf0'), zorder=3)

# volume
axq = make_ax('vol', (0, 2.19e6), [500e3, 1.5e6], [1e6, 2e6])
axq.bar(x, vol, width=0.72, color=cols, zorder=3)
axq.plot(x, vma20, color='#ff3a1a', lw=3.2, drawstyle='steps-mid', zorder=4)
axq.plot(vma60_day, np.array(vma60_k) * 1000, color='#2e7d1e', lw=3.2, zorder=4)
axq.plot(x, vma5, color='black', lw=2.6, drawstyle='steps-mid', zorder=4.5)
axq.spines['bottom'].set_visible(True)
axq.spines['bottom'].set_color('black')
axq.spines['bottom'].set_linewidth(3.2)
axq.set_xticks([m - 0.5 for m in month_idx])
axq.set_xticklabels(month_lbl)
axq.tick_params(axis='x', which='major', bottom=True, labelbottom=True, direction='out', length=7,
                width=1.5, labelsize=17, pad=1)
for t in axq.get_xticklabels():
    t.set_horizontalalignment('left')
imax = int(np.argmax(vol)); imin = int(np.argmin(vol))
axq.plot([imax, imax, imax + 2.5], [vol[imax], 2.0e6, 2.0e6], color='#e03a1a', lw=1.8, zorder=5,
         clip_on=False)
axq.text(imax + 2.7, 2.0e6, f"{vol[imax]:,.0f}({dates[imax].strftime('%Y/%m/%d')})", color='#e03a1a',
         fontsize=17, va='center', ha='left', zorder=6)
axq.plot([imin, imin], [vol[imin], 2.19e6], color='#2a67c2', lw=1.6, ls=(0, (1, 2)), zorder=5)
axq.plot([imin, imin + 2.0], [1.0e6, 1.0e6], color='#2a67c2', lw=1.6, zorder=5)
axq.text(imin + 2.2, 1.0e6, f"{vol[imin]:,.0f}({dates[imin].strftime('%Y/%m/%d')})", color='#2a67c2',
         fontsize=17, va='center', ha='left', zorder=2)

fig.text(4 / W, 1 - 1281 / H, dates[0].strftime('%Y/%m/%d'), fontsize=17, va='center', ha='left')
fig.text(2786 / W, 1 - 1281 / H, dates[-1].strftime('%Y/%m/%d'), fontsize=17, va='center', ha='right')

# ---------------- legends ----------------
renderer = fig.canvas.get_renderer()


def icon(xp, yp):
    add_rect(xp, yp - 9, xp + 10, yp + 9, '#bfe3b8', ec='#4a4a4a', lw=1.2, z=6)
    add_rect(xp + 2, yp + 5, xp + 10, yp + 9, '#8a8a8a', z=6.1)


def rich(key, parts, size=17.5):
    t, b = panels[key]
    yp = t + 16
    xp = 124
    for txt, col in parts:
        if txt is None:
            icon(xp, yp)
            xp += 15
            continue
        tt = fig.text(xp / W, 1 - yp / H, txt, color=col, fontsize=size, ha='left', va='center', zorder=7)
        xp += tt.get_window_extent(renderer).width + 1


BLK = 'black'
rich('price', [(None, 0), ('가격이동평균(종가,지수이평)', BLK), (' 5', '#ff2a12'), (' 20', '#0a1a8a'),
               (' 10', '#f6a960'), (None, 0), ('가격이동평균(종가,지수이평)', BLK), (' 60', '#2e7d1e'),
               (' 300', '#6f6f6f'), (None, 0), ('가격이동평균(종가,지수이평)', BLK)])
rich('obv', [(None, 0), ('OBV', '#f47a30'), (' Signal(단순이평(9))', '#0a1a8a')])
rich('vo', [(None, 0), ('VolumeOscillator(10,20,단순이평)', BLK)])
rich('bii', [(None, 0), ('BostiansIntradayIntensityIndex', '#f07232')])
rich('for', [(None, 0), (f'투자자별_외국인순매수수량({foreign_k[-1] * 1000:,.0f})', BLK), (None, 0),
             (f'외국인_소유({hold_m[-1] * 1e6:,.0f})', '#a3320c')])
rich('inst', [(None, 0), (f'투자자별_기관순매수수량({inst_k[-1] * 1000:,.0f})', '#4ea867')])
rich('ind', [(None, 0), (f'투자자별_개인순매수수량({indiv_k[-1] * 1000:,.0f})', '#4ea867')])
rich('vol', [(None, 0), ('거래량', BLK), (None, 0), ('거래량이동평균(단순이평)', BLK), (' 5', BLK),
             (' 20', '#ff3a1a'), (' 60', '#2e7d1e')])


# ---------------- right side value tags and buttons ----------------
zt = [20]


def tag(ax, val, text, color):
    ypx = H - ax.transData.transform((0, val))[1]
    pts = [(2677, ypx), (2692, ypx - 14), (2790, ypx - 14), (2790, ypx + 14), (2692, ypx + 14)]
    poly = Polygon([(px / W, 1 - py / H) for px, py in pts], closed=True, transform=fig.transFigure,
                   fc=color, ec=color, lw=0.8, zorder=zt[0])
    fig.add_artist(poly)
    fig.text(2738 / W, 1 - ypx / H, text, color='white', fontsize=15.5, ha='center', va='center',
             zorder=zt[0] + 0.5)
    zt[0] += 1


TAGB = '#3f7fe0'
TAGR = '#c8421e'
tag(axp, c[-1], f"{c[-1]:,.0f}", TAGB)
tag(axf2, fv[-1], f"{fv[-1]:,.0f}", TAGR)
tag(axf, hold_m[-1] * 1e6, f"{hold_m[-1] * 1e6:,.0f}", TAGR)
tag(axi, iv[-1], f"{iv[-1]:,.0f}", TAGB)
tag(axd, dv[-1], f"{dv[-1]:,.0f}", TAGR)
tag(axq, vol[-1], f"{vol[-1]:,.0f}", TAGB)

for key, (t, b) in panels.items():
    for k, g in enumerate(['L', 'I', '□', 'X']):
        bx = 2693 + k * 23
        add_rect(bx, t + 3, bx + 21, t + 22, '#f2f2f2', ec='#7a7a7a', lw=1.0, z=8)
        fig.text((bx + 10.5) / W, 1 - (t + 12.5) / H, g, fontsize=12, ha='center', va='center',
                 color='#202020', zorder=9, fontweight='bold')

fig.savefig('out.png', dpi=100, facecolor=fig.get_facecolor())
